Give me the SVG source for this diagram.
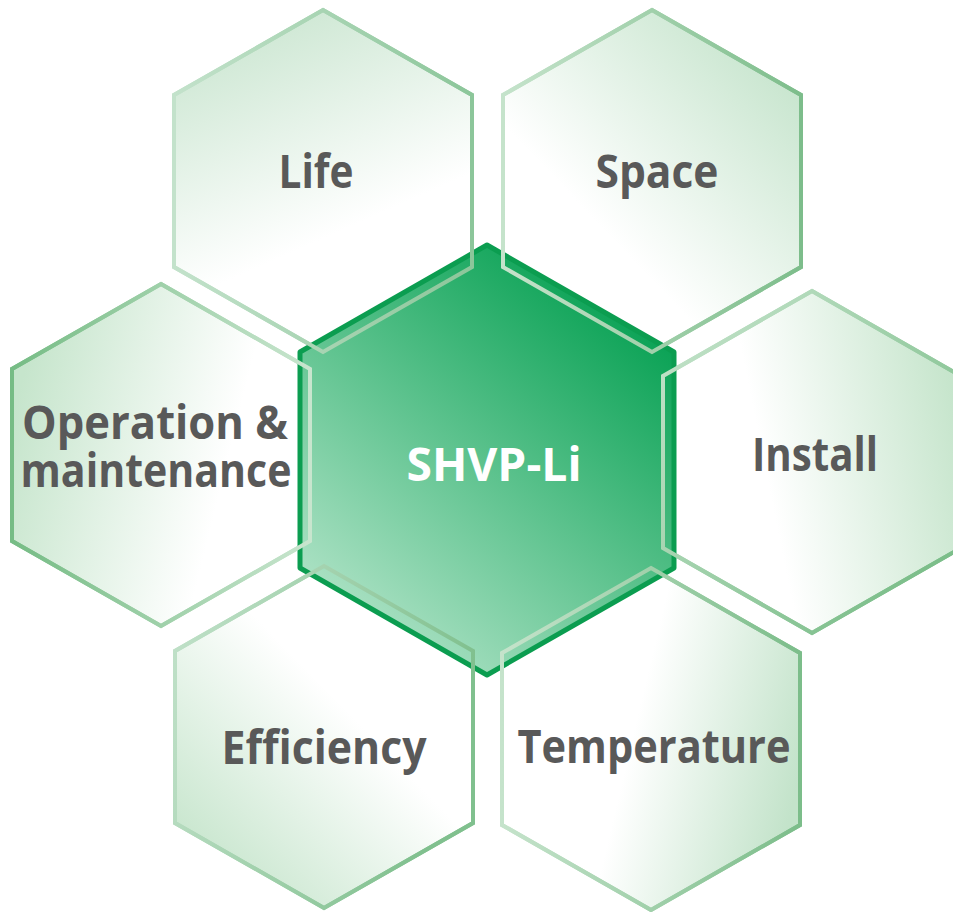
<svg xmlns="http://www.w3.org/2000/svg" xmlns:xlink="http://www.w3.org/1999/xlink" width="953" height="912" viewBox="0 0 953 912">
<style>
.lbl{font-family:"Open Sans","Noto Sans","Liberation Sans",sans-serif;font-weight:700;font-size:46px;fill:#595959;text-anchor:middle}
.ctr{fill:#ffffff}
.edge{fill:none;stroke-width:4;stroke-linejoin:miter}
</style>
<defs>
<polygon id="h-life" points="323,10 472,95 472,267 323,352 174,267 174,95"/>
<polygon id="h-space" points="652,10 801,95 801,267 652,352 503,267 503,95"/>
<polygon id="h-op" points="161,284 310,369 310,541 161,626 12,541 12,369"/>
<polygon id="h-inst" points="812,291 961,376 961,548 812,633 663,548 663,376"/>
<polygon id="h-eff" points="324,566 473,651 473,823 324,908 175,823 175,651"/>
<polygon id="h-temp" points="651,568 800,653 800,825 651,910 502,825 502,653"/>
<linearGradient id="f-life" x1="0.3" y1="0" x2="0.55" y2="0.65"><stop offset="0" stop-color="#cbe6d1"/><stop offset="1" stop-color="#ffffff"/></linearGradient>
<linearGradient id="s-life" x1="0" y1="0" x2="1" y2="0"><stop offset="0" stop-color="#c3e2cb"/><stop offset="1" stop-color="#8cc69a"/></linearGradient>
<linearGradient id="f-space" x1="0.95" y1="0.1" x2="0.4" y2="0.7"><stop offset="0" stop-color="#c3e3ca"/><stop offset="1" stop-color="#ffffff"/></linearGradient>
<linearGradient id="s-space" x1="0" y1="0" x2="1" y2="0"><stop offset="0" stop-color="#c5e3cb"/><stop offset="1" stop-color="#7dbd8b"/></linearGradient>
<linearGradient id="f-op" x1="0" y1="0.4" x2="0.7" y2="0.6"><stop offset="0" stop-color="#c6e5cc"/><stop offset="1" stop-color="#ffffff"/></linearGradient>
<linearGradient id="s-op" x1="0" y1="0" x2="1" y2="0"><stop offset="0" stop-color="#76bc85"/><stop offset="1" stop-color="#c8e5ce"/></linearGradient>
<linearGradient id="f-inst" x1="1" y1="0.4" x2="0.35" y2="0.55"><stop offset="0" stop-color="#c6e5cc"/><stop offset="1" stop-color="#ffffff"/></linearGradient>
<linearGradient id="s-inst" x1="0" y1="0" x2="0.9" y2="0.8"><stop offset="0" stop-color="#c8e5ce"/><stop offset="1" stop-color="#7cbe8a"/></linearGradient>
<linearGradient id="f-eff" x1="0.1" y1="0.9" x2="0.55" y2="0.4"><stop offset="0" stop-color="#c6e5cc"/><stop offset="1" stop-color="#ffffff"/></linearGradient>
<linearGradient id="s-eff" x1="0" y1="0" x2="1" y2="0.3"><stop offset="0" stop-color="#c3e2cb"/><stop offset="1" stop-color="#80c08e"/></linearGradient>
<linearGradient id="f-temp" x1="1" y1="0.6" x2="0.45" y2="0.45"><stop offset="0" stop-color="#c3e3ca"/><stop offset="1" stop-color="#ffffff"/></linearGradient>
<linearGradient id="s-temp" x1="0" y1="0" x2="1" y2="0"><stop offset="0" stop-color="#c5e3cb"/><stop offset="1" stop-color="#7cbd8a"/></linearGradient>
<linearGradient id="f-ctr" x1="0.85" y1="0.05" x2="0.2" y2="0.95"><stop offset="0" stop-color="#009e4e"/><stop offset="1" stop-color="#b0e3c7"/></linearGradient>
</defs>

<g id="node-life">
<use xlink:href="#h-life" stroke="url(#s-life)" class="edge" style="fill:url(#f-life)"/>
<text class="lbl" x="316" y="188" textLength="75" lengthAdjust="spacingAndGlyphs">Life</text>
</g>
<g id="node-space">
<use xlink:href="#h-space" stroke="url(#s-space)" class="edge" style="fill:url(#f-space)"/>
<text class="lbl" x="657" y="188" textLength="123" lengthAdjust="spacingAndGlyphs">Space</text>
</g>
<g id="node-operation">
<use xlink:href="#h-op" stroke="url(#s-op)" class="edge" style="fill:url(#f-op)"/>
<text class="lbl"><tspan x="155" y="439" textLength="266" lengthAdjust="spacingAndGlyphs">Operation &amp;</tspan><tspan x="156" y="487" textLength="271" lengthAdjust="spacingAndGlyphs">maintenance</tspan></text>
</g>
<g id="node-install">
<use xlink:href="#h-inst" stroke="url(#s-inst)" class="edge" style="fill:url(#f-inst)"/>
<text class="lbl" x="815" y="471" textLength="126" lengthAdjust="spacingAndGlyphs">Install</text>
</g>
<g id="node-efficiency">
<use xlink:href="#h-eff" stroke="url(#s-eff)" class="edge" style="fill:url(#f-eff)"/>
<text class="lbl" x="324" y="764" textLength="205" lengthAdjust="spacingAndGlyphs">Efficiency</text>
</g>
<g id="node-temperature">
<use xlink:href="#h-temp" stroke="url(#s-temp)" class="edge" style="fill:url(#f-temp)"/>
<text class="lbl" x="654" y="763" textLength="273" lengthAdjust="spacingAndGlyphs">Temperature</text>
</g>

<g id="node-center">
<polygon points="487,245 674,352 674,568 487,675 300,568 300,352" fill="url(#f-ctr)" stroke="#0b9d50" stroke-width="5" stroke-linejoin="round"/>
<text class="lbl ctr" x="494" y="481" textLength="175" lengthAdjust="spacingAndGlyphs">SHVP-Li</text>
</g>

<g id="connectors"/>

<g id="outlines">
<use xlink:href="#h-life" class="edge" stroke="url(#s-life)"/>
<use xlink:href="#h-space" class="edge" stroke="url(#s-space)"/>
<use xlink:href="#h-op" class="edge" stroke="url(#s-op)"/>
<use xlink:href="#h-inst" class="edge" stroke="url(#s-inst)"/>
<use xlink:href="#h-eff" class="edge" stroke="url(#s-eff)"/>
<use xlink:href="#h-temp" class="edge" stroke="url(#s-temp)"/>
</g>
</svg>
